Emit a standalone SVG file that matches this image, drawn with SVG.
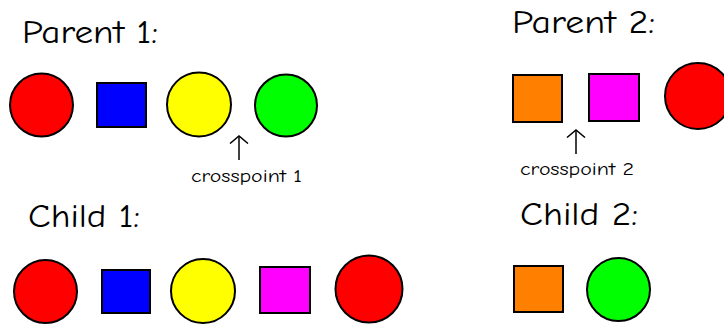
<svg xmlns="http://www.w3.org/2000/svg" width="724" height="324" viewBox="0 0 724 324">
<style>
.t{font-family:"Comic Neue","Liberation Sans","DejaVu Sans",sans-serif;font-size:33px;fill:#000}
.s{font-family:"Comic Neue","Liberation Sans","DejaVu Sans",sans-serif;font-size:17px;fill:#000}
.sh{stroke:#000;stroke-width:2}
.r{fill:#ff0000}.b{fill:#0000ff}.y{fill:#ffff00}.g{fill:#00ff00}.o{fill:#ff8000}.m{fill:#ff00ff}
.ar{stroke:#000;stroke-width:1.5;fill:none}
</style>
<defs>
<marker id="head" viewBox="0 0 9 20" refX="8" refY="10" markerWidth="9" markerHeight="20" markerUnits="userSpaceOnUse" orient="auto">
<path d="M0.5,1 L8,10 L0.5,19" fill="none" stroke="#000" stroke-width="1.5"/>
</marker>
</defs>
<rect width="724" height="324" fill="#fff"/>
<g id="labels">
<text class="t" x="22" y="43" textLength="136" lengthAdjust="spacingAndGlyphs">Parent 1:</text>
<text class="t" x="512" y="33" textLength="143" lengthAdjust="spacingAndGlyphs">Parent 2:</text>
<text class="t" x="28" y="227" textLength="112" lengthAdjust="spacingAndGlyphs">Child 1:</text>
<text class="t" x="520" y="225" textLength="118" lengthAdjust="spacingAndGlyphs">Child 2:</text>
<text class="s" x="191" y="182" textLength="111" lengthAdjust="spacingAndGlyphs">crosspoint 1</text>
<text class="s" x="520" y="175" textLength="114" lengthAdjust="spacingAndGlyphs">crosspoint 2</text>
</g>
<g id="parent1">
<g id="p1-red"><circle class="sh r" cx="41.5" cy="105" r="31.5"/></g>
<g id="p1-blue"><rect class="sh b" x="97" y="83" width="49" height="44"/></g>
<g id="p1-yellow"><circle class="sh y" cx="199" cy="104.5" r="32"/></g>
<g id="p1-green"><circle class="sh g" cx="286" cy="105.5" r="31"/></g>
</g>
<g id="parent2">
<g id="p2-orange"><rect class="sh o" x="513" y="75" width="49" height="47"/></g>
<g id="p2-magenta"><rect class="sh m" x="589" y="74" width="50" height="47"/></g>
<g id="p2-red"><circle class="sh r" cx="698" cy="96" r="33"/></g>
</g>
<g id="child1">
<g id="c1-red"><circle class="sh r" cx="45.5" cy="291.5" r="31.5"/></g>
<g id="c1-blue"><rect class="sh b" x="102" y="270" width="48" height="43"/></g>
<g id="c1-yellow"><circle class="sh y" cx="203" cy="291" r="32"/></g>
<g id="c1-magenta"><rect class="sh m" x="260" y="267" width="50" height="46"/></g>
<g id="c1-red2"><circle class="sh r" cx="369" cy="289" r="33.5"/></g>
</g>
<g id="child2">
<g id="c2-orange"><rect class="sh o" x="514" y="266" width="49" height="46"/></g>
<g id="c2-green"><circle class="sh g" cx="618.5" cy="289.5" r="31.5"/></g>
</g>
<g id="connectors">
<line class="ar" x1="239" y1="160" x2="239" y2="136" marker-end="url(#head)"/>
<line class="ar" x1="576" y1="154" x2="576" y2="130" marker-end="url(#head)"/>
</g>
</svg>
